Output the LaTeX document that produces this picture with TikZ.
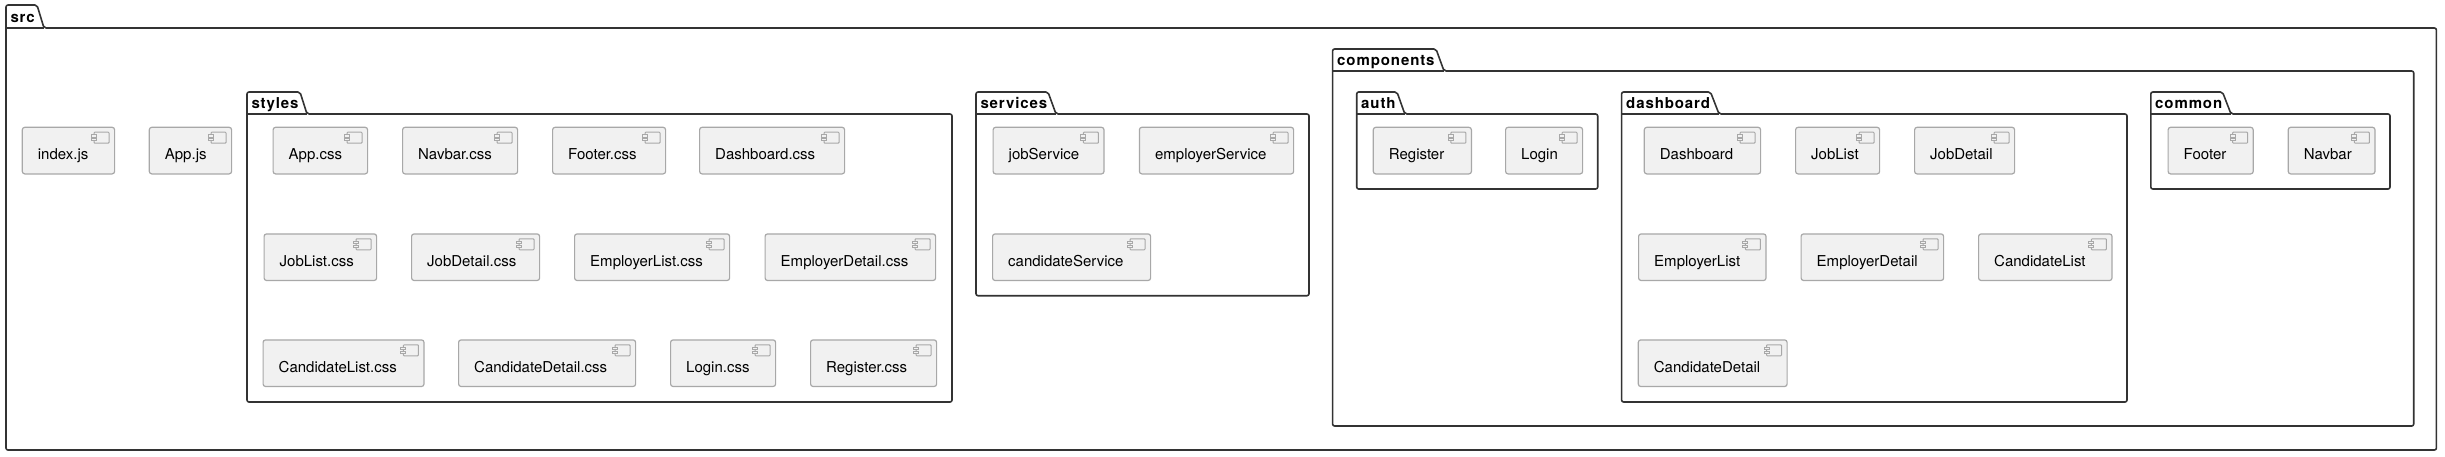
\documentclass[tikz,border=0pt]{standalone}
\usepackage{fontspec}
\setmainfont{TeX Gyre Heros}
\newfontfamily\pkgfont[LetterSpace=6]{TeX Gyre Heros Bold}
\definecolor{pkgline}{HTML}{333333}
\definecolor{boxline}{HTML}{A8A8A8}
\definecolor{boxfill}{HTML}{F1F1F1}
\tikzset{
  pkgframe/.style={draw=pkgline,line width=1.6pt,fill=white,rounded corners=2pt,line join=round},
  pkgtitle/.style={inner sep=0pt,anchor=base west,text=black,font=\fontsize{15}{15}\selectfont\pkgfont},
  compframe/.style={draw=boxline,line width=1.2pt,fill=boxfill,rounded corners=2.5pt,inner sep=0pt,minimum height=46.6pt},
  comptext/.style={inner sep=0pt,anchor=base west,text=black,font=\fontsize{15}{15}\selectfont},
  iconline/.style={draw=boxline,line width=1pt,fill=boxfill},
}
% name, left, top, right, bottom, tab top-right x, tab bottom-right x, tab top y
\newcommand{\pkgbox}[8]{%
  \path[pkgframe] (#2,#3) -- (#2,#8) -- (#6,#8) -- (#7,#3) -- (#4,#3) -- (#4,#5) -- (#2,#5) -- cycle;
  \draw[pkgframe,fill=none,sharp corners] (#2,#3) -- (#7,#3);
}
\newcommand{\pkglabel}[4]{\node[pkgtitle] (#1) at (#2,#3) {#4};}
% name, left, right, top, label
\newcommand{\compbox}[5]{%
  \node[compframe,minimum width={(#3-#2)*1pt},anchor=north west] (#1) at (#2,#4) {};
  \node[comptext] (#1-t) at ({#2+16},{#4+33.2}) {#5};
  \path[iconline,rounded corners=0.8pt] ({#3-20},{#4+5.5}) rectangle ({#3-5},{#4+16.5});
  \path[iconline] ({#3-22.5},{#4+7.8}) rectangle ({#3-17.5},{#4+10.3});
  \path[iconline] ({#3-22.5},{#4+11.7}) rectangle ({#3-17.5},{#4+14.2});
}
\begin{document}
\begin{tikzpicture}[x=1pt,y=-1pt]
\useasboundingbox (0,0) rectangle (2445,456);
\pkgbox{src}{6}{28}{2436.4}{450}{37}{44}{5}
\pkglabel{srcL}{10.3}{22}{src}
\compbox{indexjs}{21.7}{114}{126.7}{index.js}
\compbox{appjs}{148.7}{231}{126.7}{App.js}
\pkgbox{styles}{247}{114}{952}{402}{300}{307}{92}
\pkglabel{stylesL}{251.3}{108}{styles}
\compbox{appcss}{272.5}{367}{126.7}{App.css}
\compbox{navbarcss}{402}{517}{126.7}{Navbar.css}
\compbox{footercss}{552}{665}{126.7}{Footer.css}
\compbox{dashcss}{699}{844}{126.7}{Dashboard.css}
\compbox{joblistcss}{263.5}{376}{233.3}{JobList.css}
\compbox{jobdetailcss}{411}{539}{233.3}{JobDetail.css}
\compbox{emplistcss}{574}{729}{233.3}{EmployerList.css}
\compbox{empdetailcss}{764.5}{935}{233.3}{EmployerDetail.css}
\compbox{candlistcss}{262.5}{423.4}{339.3}{CandidateList.css}
\compbox{canddetailcss}{458}{635}{339.3}{CandidateDetail.css}
\compbox{logincss}{670}{775}{339.3}{Login.css}
\compbox{registercss}{810}{936}{339.3}{Register.css}
\pkgbox{services}{976}{114}{1309}{295.7}{1048}{1056}{92}
\pkglabel{servicesL}{980.3}{108}{services}
\compbox{jobsvc}{992.5}{1103.4}{126.7}{jobService}
\compbox{empsvc}{1138.8}{1293}{126.7}{employerService}
\compbox{candsvc}{992}{1150}{233.3}{candidateService}
\pkgbox{components}{1332.6}{71}{2413.7}{426}{1436}{1444}{49}
\pkglabel{componentsL}{1337}{65}{components}
\pkgbox{auth}{1356.7}{114}{1597.7}{189}{1397}{1404.8}{92}
\pkglabel{authL}{1361}{108}{auth}
\compbox{register}{1372.7}{1470.8}{126.7}{Register}
\compbox{login}{1505}{1582}{126.7}{Login}
\pkgbox{dashboard}{1621.6}{114}{2127}{402}{1710.5}{1719}{92}
\pkglabel{dashboardL}{1626}{108}{dashboard}
\compbox{dash}{1643.7}{1760}{126.7}{Dashboard}
\compbox{joblist}{1795}{1879}{126.7}{JobList}
\compbox{jobdetail}{1914}{2014}{126.7}{JobDetail}
\compbox{emplist}{1638}{1765.4}{233.3}{EmployerList}
\compbox{empdetail}{1800.5}{1943}{233.3}{EmployerDetail}
\compbox{candlist}{1978}{2111.4}{233.3}{CandidateList}
\compbox{canddetail}{1637.7}{1786.5}{339.3}{CandidateDetail}
\pkgbox{common}{2150.8}{114}{2390}{189}{2222.5}{2231}{92}
\pkglabel{commonL}{2155}{108}{common}
\compbox{footer}{2167.5}{2252.6}{126.7}{Footer}
\compbox{navbar}{2287.6}{2374.4}{126.7}{Navbar}
\end{tikzpicture}
\end{document}
